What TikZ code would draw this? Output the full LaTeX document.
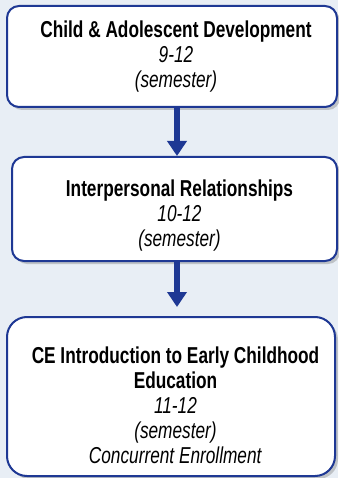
\documentclass[tikz,border=0pt]{standalone}
\usepackage{fontspec}
\setmainfont{Liberation Sans}[FakeStretch=0.75]
\usetikzlibrary{arrows.meta}
\usetikzlibrary{shadows}
\definecolor{pageBg}{RGB}{232,238,245}
\definecolor{boxBlue}{RGB}{30,56,148}

\begin{document}
\begin{tikzpicture}[x=1pt, y=-1pt, font=\fontsize{23}{25}\selectfont]
	\tikzstyle{boxStyle}=[draw=boxBlue, line width=2pt, fill=white, rounded corners=12pt, inner sep=0pt, drop shadow={shadow xshift=3pt, shadow yshift=-3pt, opacity=0.4}]
	\tikzstyle{textStyle}=[align=center, anchor=base, inner sep=0pt]
	\tikzstyle{arrowStyle}=[draw=boxBlue, line width=6pt, -{Triangle[width=19pt, length=15pt]}]
	\fill[pageBg] (0,0) rectangle (338,478);
	\useasboundingbox (0,0) rectangle (338,478);
	% course boxes
	\node[boxStyle, minimum width=330pt, minimum height=101pt] (box1) at (172,56.5) {};
	\node[boxStyle, minimum width=325pt, minimum height=104pt] (box2) at (174.5,209) {};
	\node[boxStyle, rounded corners=20pt, minimum width=328pt, minimum height=159pt] (box3) at (171,396.5) {};
	% course texts (anchored on the last line)
	\node[textStyle] (t1) at (176,88) {\textbf{Child \& Adolescent Development}\\\textit{9-12}\\\textit{(semester)}};
	\node[textStyle] (t2) at (179.5,246) {\textbf{Interpersonal Relationships}\\\textit{10-12}\\\textit{(semester)}};
	\node[textStyle] (t3) at (175.5,463) {\textbf{CE Introduction to Early Childhood}\\\textbf{Education}\\\textit{11-12}\\\textit{(semester)}\\\textit{Concurrent Enrollment}};
	% arrows
	\coordinate (arrowX) at (177,0);
	\draw[arrowStyle] (box1.south -| arrowX) -- (box2.north -| arrowX);
	\draw[arrowStyle, shorten >=9pt] (box2.south -| arrowX) -- (box3.north -| arrowX);
\end{tikzpicture}
\end{document}
